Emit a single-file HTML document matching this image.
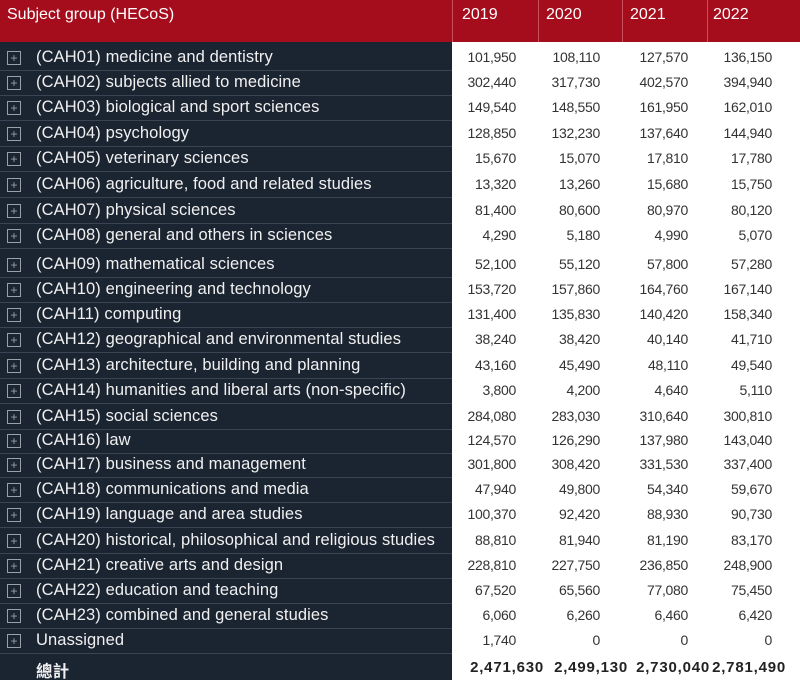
<!DOCTYPE html>
<html><head><meta charset="utf-8"><style>
body{margin:0;width:800px;height:680px;background:#fff;position:relative;overflow:hidden;font-family:"Liberation Sans","Noto Sans CJK TC",sans-serif}
.hdr{position:absolute;left:0;top:0;width:800px;height:42px;background:#a50d1c}
.hdr span{position:absolute;top:6px;color:#fff;font-size:16px}
.sep{position:absolute;top:0;height:42px;width:1px;background:#c8505a}
.left{position:absolute;left:0;top:42px;width:452px;height:638px;background:#1b2431}
.row{position:absolute;left:0;width:800px;height:24px}
.row .b{position:absolute;left:7px;top:6px;width:12px;height:12px;border:1px solid #9aa0a8;color:#9aa0a8;font-size:12px;line-height:12px;text-align:center}
.row .t{position:absolute;left:36px;top:3px;color:#f0f0f0;font-size:16.5px;white-space:nowrap;letter-spacing:0.1px}
.row .n{position:absolute;top:4px;color:#333;font-size:14px;text-align:right;width:90px;letter-spacing:-0.3px}
.line{position:absolute;left:0;width:452px;height:1px;background:#3a4452}
</style></head><body>
<div class="hdr"><span style="left:7px">Subject group (HECoS)</span><span style="left:462px">2019</span><span style="left:546px">2020</span><span style="left:630px">2021</span><span style="left:713px">2022</span></div>
<div class="sep" style="left:452px"></div><div class="sep" style="left:538px"></div><div class="sep" style="left:622px"></div><div class="sep" style="left:707px"></div>
<div class="left"></div>
<div id="rows"></div>
<script>
var d=[[57,"(CAH01) medicine and dentistry","101,950","108,110","127,570","136,150"],
[82,"(CAH02) subjects allied to medicine","302,440","317,730","402,570","394,940"],
[107,"(CAH03) biological and sport sciences","149,540","148,550","161,950","162,010"],
[133,"(CAH04) psychology","128,850","132,230","137,640","144,940"],
[158,"(CAH05) veterinary sciences","15,670","15,070","17,810","17,780"],
[184,"(CAH06) agriculture, food and related studies","13,320","13,260","15,680","15,750"],
[210,"(CAH07) physical sciences","81,400","80,600","80,970","80,120"],
[235,"(CAH08) general and others in sciences","4,290","5,180","4,990","5,070"],
[264,"(CAH09) mathematical sciences","52,100","55,120","57,800","57,280"],
[289,"(CAH10) engineering and technology","153,720","157,860","164,760","167,140"],
[314,"(CAH11) computing","131,400","135,830","140,420","158,340"],
[339,"(CAH12) geographical and environmental studies","38,240","38,420","40,140","41,710"],
[365,"(CAH13) architecture, building and planning","43,160","45,490","48,110","49,540"],
[390,"(CAH14) humanities and liberal arts (non-specific)","3,800","4,200","4,640","5,110"],
[416,"(CAH15) social sciences","284,080","283,030","310,640","300,810"],
[440,"(CAH16) law","124,570","126,290","137,980","143,040"],
[464,"(CAH17) business and management","301,800","308,420","331,530","337,400"],
[489,"(CAH18) communications and media","47,940","49,800","54,340","59,670"],
[514,"(CAH19) language and area studies","100,370","92,420","88,930","90,730"],
[540,"(CAH20) historical, philosophical and religious studies","88,810","81,940","81,190","83,170"],
[565,"(CAH21) creative arts and design","228,810","227,750","236,850","248,900"],
[590,"(CAH22) education and teaching","67,520","65,560","77,080","75,450"],
[615,"(CAH23) combined and general studies","6,060","6,260","6,460","6,420"],
[640,"Unassigned","1,740","0","0","0"]];
var ends=[516,600,688,772],h="";
d.forEach(function(r){var y=r[0]-12;h+='<div class="row" style="top:'+y+'px"><div class="b">+</div><div class="t">'+r[1]+'</div>';
for(var i=0;i<4;i++)h+='<div class="n" style="left:'+(ends[i]-90)+'px">'+r[i+2]+'</div>';
h+='</div><div class="line" style="top:'+(y+25)+'px"></div>';});
h+='<div class="row" style="top:655px"><div class="t" style="font-weight:bold">總計</div>';
var t=["2,471,630","2,499,130","2,730,040","2,781,490"],e2=[544,628,710,786];
for(var i=0;i<4;i++)h+='<div class="n" style="left:'+(e2[i]-90)+'px;font-weight:bold;font-size:15px;letter-spacing:0.8px;color:#222">'+t[i]+'</div>';
h+='</div>';
document.getElementById("rows").innerHTML=h;
</script>
</body></html>
